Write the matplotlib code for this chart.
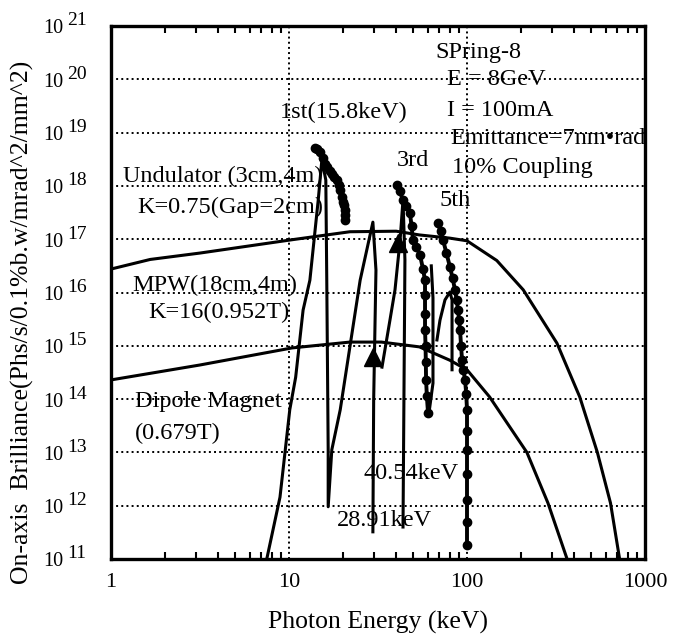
import numpy as np
import matplotlib
matplotlib.use("Agg")
import matplotlib.pyplot as plt
import matplotlib.transforms as mtrans

plt.rcParams['font.family'] = ['Liberation Serif', 'DejaVu Serif']

# ---- data (photon energy keV, log10 brilliance) ----
mpw_E = [1, 1.66, 3.16, 10.4, 22, 40, 54, 80, 100, 147, 207, 320, 430, 540, 640, 720]
mpw_logB = [16.44, 16.62, 16.74, 16.99, 17.14, 17.15, 17.08, 17.02, 16.97, 16.6, 16.05, 15.05, 14.04, 13.0, 12.05, 11.0]

dip_E = [1, 3.16, 10.4, 22, 33, 54, 80, 100, 134, 217, 285, 365]
dip_logB = [14.36, 14.64, 14.96, 15.07, 15.07, 14.98, 14.73, 14.55, 14.04, 13.0, 12.05, 11.0]

# undulator spectrum (gap for 28.91 keV)
s1_E = [7.5, 8.9, 10.1, 10.9, 12.0, 13.1, 14.6, 15.3, 16.1, 16.3, 16.6, 16.6, 17.4, 19.4, 25.1, 29.6, 30.8, 29.9, 29.6]
s1_logB = [11.0, 12.16, 13.8, 14.41, 15.67, 16.23, 17.74, 18.49, 18.11, 16.23, 13.05, 11.98, 13.05, 13.8, 16.23, 17.32, 16.42, 13.98, 11.51]

# undulator spectrum (gap for 40.54 keV)
s2_E = [33.3, 36.9, 39.4, 42.1, 43.7, 44.8, 43.7]
s2_logB = [14.6, 15.48, 16.05, 16.99, 17.74, 16.61, 11.6]

# 5th harmonic region spectrum
s3_E = [67.8, 70.5, 75.2, 80.2, 82.4, 82.4]
s3_logB = [15.11, 15.48, 15.86, 16.01, 15.86, 14.55]

# 3rd loop return branch
s4_E = [61.5, 64.4, 64.4, 63.0]
s4_logB = [13.8, 14.3, 15.9, 16.5]

# tuning curves (dotted)
h1_E = [14.0, 14.4, 14.9, 15.5, 16.0, 16.4, 17.0, 17.4, 18.0, 18.6, 19.0, 19.4, 19.9, 20.2, 20.4, 20.6, 20.6, 20.6]
h1_logB = [18.71, 18.69, 18.64, 18.52, 18.42, 18.35, 18.28, 18.22, 18.16, 18.11, 18.02, 17.92, 17.79, 17.70, 17.64, 17.55, 17.45, 17.36]

h3_E = [40.4, 41.8, 43.7, 45.5, 47.8, 48.8, 49.7, 52.0, 54.5, 56.5, 58.1, 58.1, 58.1, 58.1, 58.5, 58.7, 58.9, 59.5, 60.4]
h3_logB = [18.02, 17.90, 17.74, 17.62, 17.49, 17.25, 16.99, 16.85, 16.70, 16.45, 16.23, 15.95, 15.6, 15.30, 15.0, 14.7, 14.36, 14.05, 13.74]

h5_E = [68.7, 71.0, 73.3, 76.5, 80.2, 83.0, 85.6, 87.5, 89.0, 90.3, 91.4, 92.6, 93.8, 95.5, 97.5, 99.0,
        100, 100, 100, 100, 100, 100, 100]
h5_logB = [17.30, 17.15, 16.99, 16.75, 16.48, 16.27, 16.05, 15.86, 15.67, 15.48, 15.30, 15.0, 14.73, 14.55, 14.36, 14.1,
           13.80, 13.4, 13.05, 12.6, 12.11, 11.7, 11.26]

arrow_E = [29.6, 41.0]
arrow_logB = [14.79, 16.93]

xticks = [1, 10, 100, 1000]
xtick_labels = ['1', '10', '100', '1000']
yexp = list(range(11, 22))

fig = plt.figure(figsize=(6.75, 6.36), dpi=100)
ax = fig.add_axes([111/675, 1-559/636, 534/675, 533/636])
ax.set_xscale('log')
ax.set_yscale('log')
ax.set_xlim(1, 1000)
ax.set_ylim(1e11, 1e21)

def p(E, lb):
    return np.array(E), 10.0**np.array(lb)

lw = 2.2
ax.plot(*p(mpw_E, mpw_logB), color='black', lw=lw)
ax.plot(*p(dip_E, dip_logB), color='black', lw=lw)
ax.plot(*p(s1_E, s1_logB), color='black', lw=lw)
ax.plot(*p(s2_E, s2_logB), color='black', lw=lw)
ax.plot(*p(s3_E, s3_logB), color='black', lw=lw)
ax.plot(*p(s4_E, s4_logB), color='black', lw=lw)
for E, lb in [(h1_E, h1_logB), (h3_E, h3_logB), (h5_E, h5_logB)]:
    ax.plot(*p(E, lb), color='black', lw=2.8, marker='o', ms=6)
ax.plot(*p(arrow_E, arrow_logB), ls='none', marker='^', ms=13, color='black')

ax.set_xticks(xticks)
ax.set_xticklabels(xtick_labels)
ax.set_yticks([10.0**e for e in yexp])
ax.set_yticklabels([])
ax.minorticks_on()
ax.yaxis.set_minor_locator(matplotlib.ticker.NullLocator())
ax.tick_params(axis='x', which='both', direction='in', top=True, labelsize=16, pad=10, width=1.5)
ax.tick_params(axis='x', which='major', length=0)
ax.tick_params(axis='x', which='minor', length=5)
ax.tick_params(axis='y', which='both', length=0)
ax.grid(True, which='major', color='black', ls=':', lw=1.4)
for s in ax.spines.values():
    s.set_linewidth(2.4)

# y tick labels: "10" with raised exponent
blend = mtrans.blended_transform_factory(ax.transAxes, ax.transData)
t_base = mtrans.offset_copy(blend, fig=fig, x=0, y=-3, units='dots')
t_exp = mtrans.offset_copy(blend, fig=fig, x=0, y=5, units='dots')
for e in yexp:
    ax.text((63-111)/534, 10.0**e, "10", transform=t_base, fontsize=14.5, ha='right', va='center', clip_on=False)
    ax.text((67-111)/534, 10.0**e, str(e), transform=t_exp, fontsize=14, ha='left', va='center', clip_on=False)

fs = 17.5
txt = [
    ("Undulator (3cm,4m)", 1.17, 18.17),
    ("K=0.75(Gap=2cm)", 1.40, 17.60),
    ("1st(15.8keV)", 8.9, 19.37),
    ("SPring-8", 66.1, 20.51),
    ("E = 8GeV", 77.2, 20.0),
    ("I = 100mA", 77.2, 19.42),
    ("Emittance=7nm\u2022rad", 80.3, 18.88),
    ("10% Coupling", 82.4, 18.34),
    ("3rd", 40.4, 18.47),
    ("5th", 70.5, 17.72),
    ("MPW(18cm,4m)", 1.31, 16.14),
    ("K=16(0.952T)", 1.61, 15.62),
    ("Dipole Magnet", 1.36, 13.95),
    ("(0.679T)", 1.36, 13.36),
    ("40.54keV", 26.1, 12.61),
    ("28.91keV", 18.6, 11.73),
]
for s, x, y in txt:
    ax.text(x, 10**y, s, fontsize=fs, ha='left', va='center')

fig.text(378/675, 1-622/636, "Photon Energy (keV)", fontsize=18.5, ha='center', va='center')
fig.text(22/675, 1-322/636, "On-axis  Brilliance(Phs/s/0.1%b.w/mrad^2/mm^2)", fontsize=18.5,
         rotation=90, ha='center', va='center')

fig.savefig("out.png", dpi=100)
